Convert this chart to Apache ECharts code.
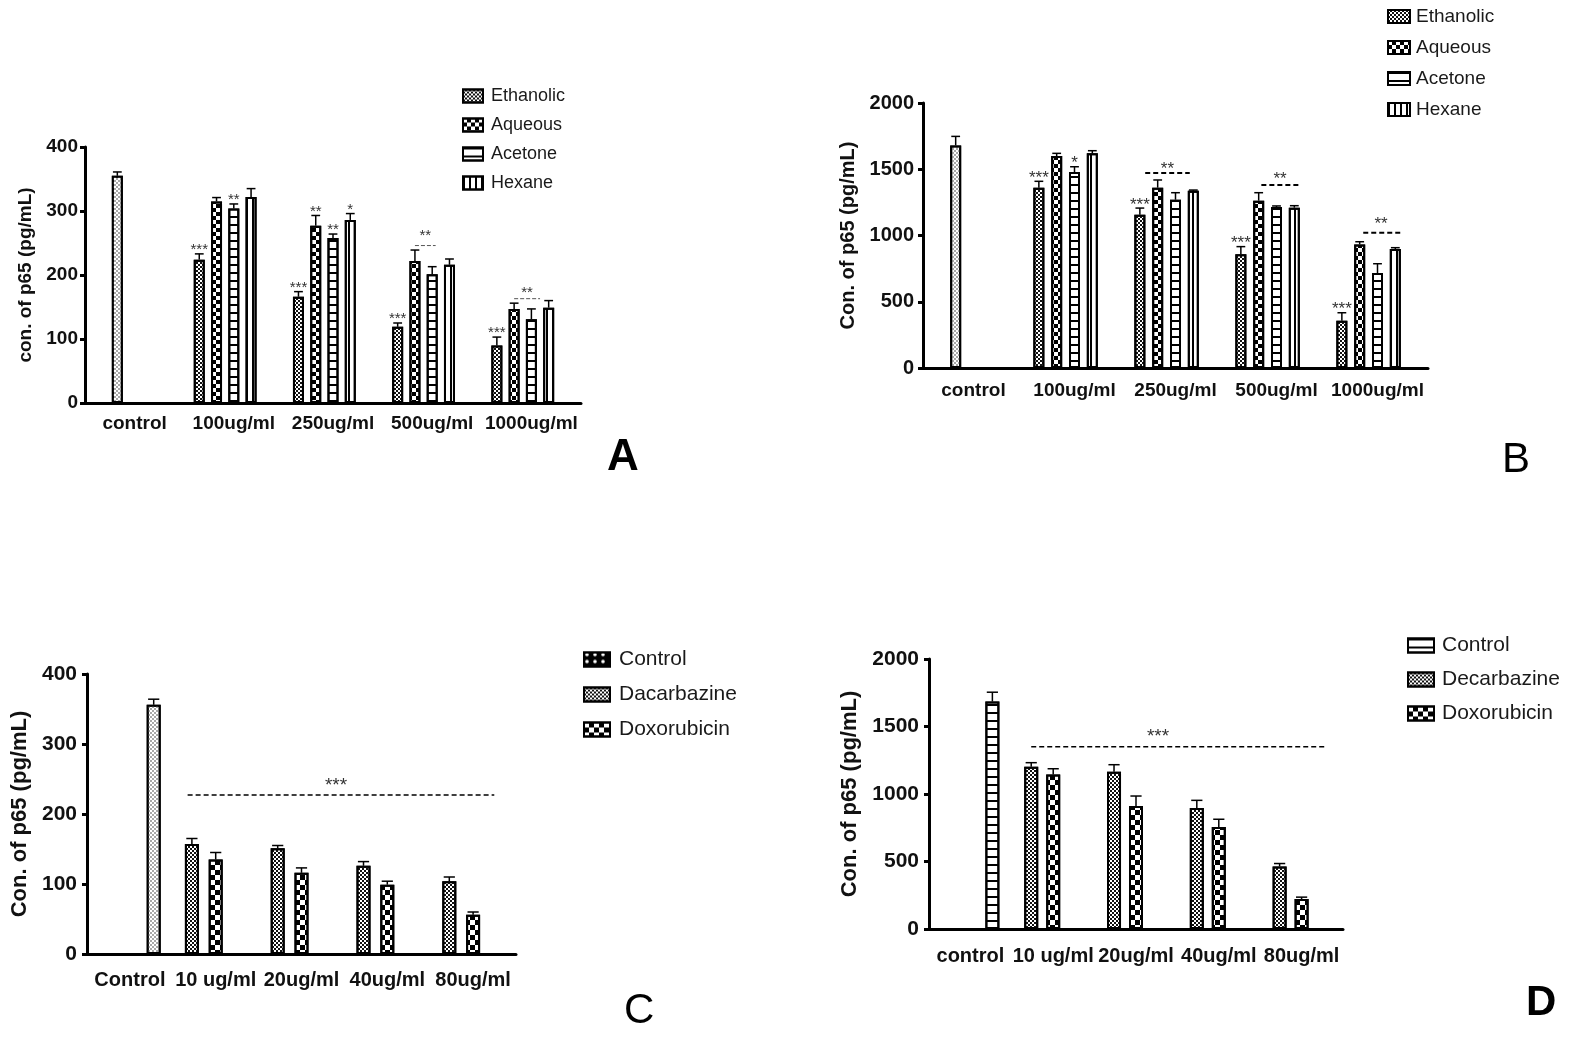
<!DOCTYPE html>
<html>
<head>
<meta charset="utf-8">
<script src="https://cdn.jsdelivr.net/npm/echarts/dist/echarts.min.js"></script>
<style>
  html, body { margin: 0; padding: 0; background: #fff; }
  .panel { position: absolute; }
  #pa { left: 0; top: 0; width: 790px; height: 520px; }
  #pb { left: 790px; top: 0; width: 784px; height: 520px; }
  #pc { left: 0; top: 520px; width: 790px; height: 518px; }
  #pd { left: 790px; top: 520px; width: 784px; height: 518px; }
</style>
</head>
<body>
<div id="pa" class="panel"></div>
<div id="pb" class="panel"></div>
<div id="pc" class="panel"></div>
<div id="pd" class="panel"></div>
<script>
// ---- data ----
// panel A
const categoriesA = ['control', '100ug/ml', '250ug/ml', '500ug/ml', '1000ug/ml']
const controlA = 355
const controlErrA = 6
const ethanolicA = [224, 166, 119, 90]
const ethanolicErrA = [9, 8, 6, 13]
const aqueousA = [315, 277, 222, 147]
const aqueousErrA = [6, 16, 17, 9]
const acetoneA = [304, 258, 201, 131]
const acetoneErrA = [7, 6, 12, 16]
const hexaneA = [322, 286, 216, 149]
const hexaneErrA = [13, 10, 9, 11]
const ethanolicStarsA = ['***', '***', '***', '***']
const aqueousStarsA = ['', '**', '', '']
const acetoneStarsA = ['**', '**', '', '']
const hexaneStarsA = ['', '*', '', '']
// [fromCat, fromSlot, toCat, toSlot, lineY, starCat, starSlot, starY, text]
const bracketsA = [
  [3, 1.0, 3, 2.2, 246, 3, 1.6, 266, '**'],
  [4, 1.0, 4, 2.5, 163, 4, 1.75, 177, '**']
]

// panel B
const categoriesB = ['control', '100ug/ml', '250ug/ml', '500ug/ml', '1000ug/ml']
const controlB = 1680
const controlErrB = 68
const ethanolicB = [1361, 1157, 858, 357]
const ethanolicErrB = [48, 50, 58, 60]
const aqueousB = [1600, 1361, 1263, 933]
const aqueousErrB = [20, 58, 60, 20]
const acetoneB = [1479, 1270, 1215, 717]
const acetoneErrB = [40, 53, 8, 70]
const hexaneB = [1620, 1338, 1210, 898]
const hexaneErrB = [20, 5, 15, 10]
const ethanolicStarsB = ['***', '***', '***', '***']
const acetoneStarsB = ['*', '', '', '']
const bracketsB = [
  [2, 0.3, 2, 2.8, 1472, 2, 1.55, 1530, '**'],
  [3, 1.15, 3, 3.3, 1381, 3, 2.2, 1454, '**'],
  [4, 1.2, 4, 3.3, 1021, 4, 2.2, 1114, '**']
]

// panel C
const categoriesC = ['Control', '10 ug/ml', '20ug/ml', '40ug/ml', '80ug/ml']
const controlC = 356
const controlErrC = 8
const dacarbazineC = [157, 151, 126, 104]
const dacarbazineErrC = [8, 4, 6, 6]
const doxorubicinC = [135, 116, 99, 56]
const doxorubicinErrC = [10, 7, 5, 4]
const bracketsC = [
  [1, -0.18, 4, 1.89, 227, 2, 2.45, 246, '***']
]

// panel D
const categoriesD = ['control', '10 ug/ml', '20ug/ml', '40ug/ml', '80ug/ml']
const controlD = 1685
const controlErrD = 69
const decarbazineD = [1202, 1165, 897, 463]
const decarbazineErrD = [30, 52, 56, 22]
const doxorubicinD = [1145, 911, 756, 222]
const doxorubicinErrD = [42, 74, 57, 14]
const bracketsD = [
  [1, 0, 4, 2.1, 1350, 2, 2, 1453, '***']
]

// ---- fill patterns ----
const FONT = "'Liberation Sans', Arial, Helvetica, sans-serif"

function checker(size, color) {
  return {
    symbol: 'rect', symbolSize: 1, color,
    dashArrayX: [[size, size], [0, size, size, 0]],
    dashArrayY: [size, 0]
  }
}
const hLines = { symbol: 'rect', symbolSize: 1, color: '#000', dashArrayX: [1, 0], dashArrayY: [1.5, 6] }
const vLines = { symbol: 'rect', symbolSize: 1, color: '#000', dashArrayX: [1.5, 3.5], dashArrayY: [1, 0] }
const fineDark = checker(2, '#111')
const fineLight = checker(2, '#a8a8a8')

/** group values start at category 1, category 0 holds the control */
function withControl(values, control) {
  return [control === undefined ? '-' : control].concat(values)
}

/**
 * build one panel
 * @param {string} id
 * @param {object} p
 */
function makePanel(id, p) {
  const chart = echarts.init(document.getElementById(id), null, { renderer: 'canvas' })
  const spacing = p.barWidth * (1 + p.barGap)
  const series = []
  const items = []

  p.series.forEach(s => {
    const itemStyle = { color: '#fff', borderColor: '#000', borderWidth: 2 }
    if (s.decal) itemStyle.decal = s.decal
    series.push({
      type: 'bar',
      name: s.name,
      barWidth: p.barWidth,
      barGap: p.barGap * 100 + '%',
      silent: true,
      data: s.values.map((v, i) => (s.override && s.override[i])
        ? { value: v, itemStyle: { decal: s.override[i] } }
        : v),
      itemStyle,
      emphasis: { disabled: true }
    })
    s.values.forEach((v, i) => {
      if (typeof v !== 'number') return
      items.push({ cat: i, value: v, err: s.errs[i] || 0, slot: s.slot, star: s.stars ? s.stars[i] : '' })
    })
  })

  // error bars + stars over single bars
  series.push({
    type: 'custom',
    silent: true,
    z: 10,
    clip: false,
    data: items.map(it => [it.cat, it.value + it.err]),
    encode: { x: 0, y: 1 },
    renderItem(params, api) {
      const it = items[params.dataIndex]
      const dx = (it.slot - p.center) * spacing
      const base = api.coord([it.cat, it.value])
      const top = api.coord([it.cat, it.value + it.err])
      const x = base[0] + dx
      const cap = p.barWidth * 0.8
      const children = [
        { type: 'line', shape: { x1: x, y1: base[1], x2: x, y2: top[1] }, style: { stroke: '#000', lineWidth: 1.5 } },
        { type: 'line', shape: { x1: x - cap / 2, y1: top[1], x2: x + cap / 2, y2: top[1] }, style: { stroke: '#000', lineWidth: 1.5 } }
      ]
      if (it.star) {
        children.push({
          type: 'text', x: x, y: top[1] - p.starGap,
          style: { text: it.star, fill: '#333', font: p.starFont + 'px ' + FONT, align: 'center', verticalAlign: 'middle' }
        })
      }
      return { type: 'group', children }
    }
  })

  // dashed comparison lines
  if (p.brackets && p.brackets.length) {
    series.push({
      type: 'custom',
      silent: true,
      z: 10,
      clip: false,
      data: p.brackets.map(b => [b[0], b[7]]),
      encode: { x: 0, y: 1 },
      renderItem(params, api) {
        const b = p.brackets[params.dataIndex]
        const a1 = api.coord([b[0], b[4]])
        const a2 = api.coord([b[2], b[4]])
        const st = api.coord([b[5], b[7]])
        const x1 = a1[0] + (b[1] - p.center) * spacing
        const x2 = a2[0] + (b[3] - p.center) * spacing
        const sx = st[0] + (b[6] - p.center) * spacing
        return {
          type: 'group',
          children: [
            { type: 'line', shape: { x1, y1: a1[1], x2, y2: a1[1] }, style: { stroke: p.dash.color, lineWidth: p.dash.width, lineDash: p.dash.pattern } },
            { type: 'text', x: sx, y: st[1] + p.starFont * 0.23, style: { text: b[8], fill: '#333', font: p.starFont + 'px ' + FONT, align: 'center', verticalAlign: 'middle' } }
          ]
        }
      }
    })
  }

  const option = {
    animation: false,
    textStyle: { fontFamily: FONT },
    grid: Object.assign({ outerBoundsMode: 'none', containLabel: false }, p.grid),
    legend: {
      orient: 'vertical',
      left: p.legend.left,
      top: p.legend.top,
      icon: 'rect',
      itemWidth: p.legend.iw,
      itemHeight: p.legend.ih,
      itemGap: p.legend.gap,
      selectedMode: false,
      data: p.legend.data,
      textStyle: {
        fontFamily: FONT, fontSize: p.legend.fontSize, lineHeight: p.legend.fontSize,
        color: '#1a1a1a', padding: [0, 0, 0, p.legend.pad]
      }
    },
    xAxis: {
      type: 'category',
      data: p.cats,
      axisLine: { lineStyle: { color: '#000', width: 3 } },
      axisTick: { alignWithLabel: true, length: 6, lineStyle: { color: '#000', width: 3 } },
      axisLabel: { color: '#111', fontWeight: 'bold', fontSize: p.catFont, margin: p.xMargin, interval: 0, fontFamily: FONT },
      splitLine: { show: false }
    },
    yAxis: {
      type: 'value',
      min: 0,
      max: p.yMax,
      interval: p.yStep,
      name: p.yName,
      nameLocation: 'middle',
      nameRotate: 90,
      nameGap: p.yNameGap,
      nameTextStyle: { color: '#111', fontWeight: 'bold', fontSize: p.yNameFont, fontFamily: FONT },
      axisLine: { show: true, lineStyle: { color: '#000', width: 3 } },
      axisTick: { show: true, length: 5, lineStyle: { color: '#000', width: 3 } },
      axisLabel: { color: '#111', fontWeight: 'bold', fontSize: p.tickFont, margin: p.yMargin, fontFamily: FONT, formatter: v => String(v) },
      splitLine: { show: false }
    },
    graphic: [{
      type: 'text', left: p.letter.x, top: p.letter.y,
      style: { text: p.letter.text, fill: '#000', font: p.letter.weight + ' ' + p.letter.size + 'px ' + FONT }
    }],
    series
  }
  chart.setOption(option)
  return chart
}

// ---- panel A ----
makePanel('pa', {
  cats: categoriesA, yMax: 400, yStep: 100,
  grid: { left: 85, top: 147, width: 496, height: 256 },
  barWidth: 11, barGap: 0.57, center: 2,
  series: [
    { name: 'Ethanolic', slot: 0, values: withControl(ethanolicA), errs: withControl(ethanolicErrA), stars: withControl(ethanolicStarsA, ''), decal: fineDark },
    { name: 'Aqueous', slot: 1, values: withControl(aqueousA, controlA), errs: withControl(aqueousErrA, controlErrA), stars: withControl(aqueousStarsA, ''), decal: checker(4, '#000'), override: { 0: fineLight } },
    { name: 'Acetone', slot: 2, values: withControl(acetoneA), errs: withControl(acetoneErrA), stars: withControl(acetoneStarsA, ''), decal: hLines },
    { name: 'Hexane', slot: 3, values: withControl(hexaneA), errs: withControl(hexaneErrA), stars: withControl(hexaneStarsA, ''), decal: vLines },
    { name: 'pad', slot: 4, values: ['-', '-', '-', '-', '-'], errs: [] }
  ],
  brackets: bracketsA,
  dash: { color: '#555', width: 1, pattern: [4, 2] },
  starFont: 15, starGap: 4,
  legend: { left: 457, top: 82, iw: 20, ih: 13, gap: 11, fontSize: 18, pad: 3, data: ['Ethanolic', 'Aqueous', 'Acetone', 'Hexane'] },
  tickFont: 19, catFont: 19, xMargin: 11, yMargin: 7,
  yName: 'con. of p65 (pg/mL)', yNameFont: 19, yNameGap: 46,
  letter: { text: 'A', x: 607, y: 436, size: 44, weight: 'bold' }
})

// ---- panel B ----
makePanel('pb', {
  cats: categoriesB, yMax: 2000, yStep: 500,
  grid: { left: 133, top: 103, width: 505, height: 265 },
  barWidth: 11, barGap: 0.62, center: 2,
  series: [
    { name: 'Ethanolic', slot: 0, values: withControl(ethanolicB), errs: withControl(ethanolicErrB), stars: withControl(ethanolicStarsB, ''), decal: fineDark },
    { name: 'Aqueous', slot: 1, values: withControl(aqueousB, controlB), errs: withControl(aqueousErrB, controlErrB), decal: checker(4, '#000'), override: { 0: fineLight } },
    { name: 'Acetone', slot: 2, values: withControl(acetoneB), errs: withControl(acetoneErrB), stars: withControl(acetoneStarsB, ''), decal: hLines },
    { name: 'Hexane', slot: 3, values: withControl(hexaneB), errs: withControl(hexaneErrB), decal: vLines },
    { name: 'pad', slot: 4, values: ['-', '-', '-', '-', '-'], errs: [] }
  ],
  brackets: bracketsB,
  dash: { color: '#000', width: 2, pattern: [5, 3] },
  starFont: 17, starGap: 3,
  legend: { left: 592, top: 2, iw: 22, ih: 13, gap: 12, fontSize: 19, pad: 1, data: ['Ethanolic', 'Aqueous', 'Acetone', 'Hexane'] },
  tickFont: 20, catFont: 19, xMargin: 13, yMargin: 9,
  yName: 'Con. of p65 (pg/mL)', yNameFont: 20, yNameGap: 64,
  letter: { text: 'B', x: 712, y: 439, size: 42, weight: 'normal' }
})

// ---- panel C ----
makePanel('pc', {
  cats: categoriesC, yMax: 400, yStep: 100,
  grid: { left: 87, top: 154, width: 429, height: 280 },
  barWidth: 14, barGap: 0.7, center: 1,
  series: [
    { name: 'Dacarbazine', slot: 0, values: withControl(dacarbazineC), errs: withControl(dacarbazineErrC), decal: fineDark },
    { name: 'Doxorubicin', slot: 1, values: withControl(doxorubicinC), errs: withControl(doxorubicinErrC), decal: checker(5, '#000') },
    { name: 'Control', slot: 2, values: withControl(['-', '-', '-', '-'], controlC), errs: withControl([], controlErrC), decal: fineLight }
  ],
  brackets: bracketsC,
  dash: { color: '#000', width: 1.5, pattern: [5, 3] },
  starFont: 19, starGap: 4,
  legend: {
    left: 578, top: 124, iw: 26, ih: 14, gap: 14, fontSize: 21, pad: 4,
    data: [
      { name: 'Control', itemStyle: { color: '#000', decal: { symbol: 'circle', symbolSize: 0.9, color: '#fff', dashArrayX: [6, 2], dashArrayY: [4, 3] } } },
      'Dacarbazine', 'Doxorubicin'
    ]
  },
  tickFont: 21, catFont: 20, xMargin: 16, yMargin: 10,
  yName: 'Con. of p65 (pg/mL)', yNameFont: 22, yNameGap: 55,
  letter: { text: 'C', x: 624, y: 470, size: 42, weight: 'normal' }
})

// ---- panel D ----
makePanel('pd', {
  cats: categoriesD, yMax: 2000, yStep: 500,
  grid: { left: 139, top: 139, width: 414, height: 270 },
  barWidth: 14, barGap: 0.57, center: 1,
  series: [
    { name: 'Decarbazine', slot: 0, values: withControl(decarbazineD), errs: withControl(decarbazineErrD), decal: fineDark },
    { name: 'Doxorubicin', slot: 1, values: withControl(doxorubicinD), errs: withControl(doxorubicinErrD), decal: checker(5, '#000') },
    { name: 'Control', slot: 2, values: withControl(['-', '-', '-', '-'], controlD), errs: withControl([], controlErrD), decal: hLines }
  ],
  brackets: bracketsD,
  dash: { color: '#000', width: 1.5, pattern: [5, 3] },
  starFont: 19, starGap: 4,
  legend: { left: 612, top: 110, iw: 26, ih: 14, gap: 13, fontSize: 21, pad: 3, data: ['Control', 'Decarbazine', 'Doxorubicin'] },
  tickFont: 21, catFont: 20, xMargin: 17, yMargin: 10,
  yName: 'Con. of p65 (pg/mL)', yNameFont: 22, yNameGap: 54,
  letter: { text: 'D', x: 736, y: 462, size: 42, weight: 'bold' }
})
</script>
</body>
</html>
